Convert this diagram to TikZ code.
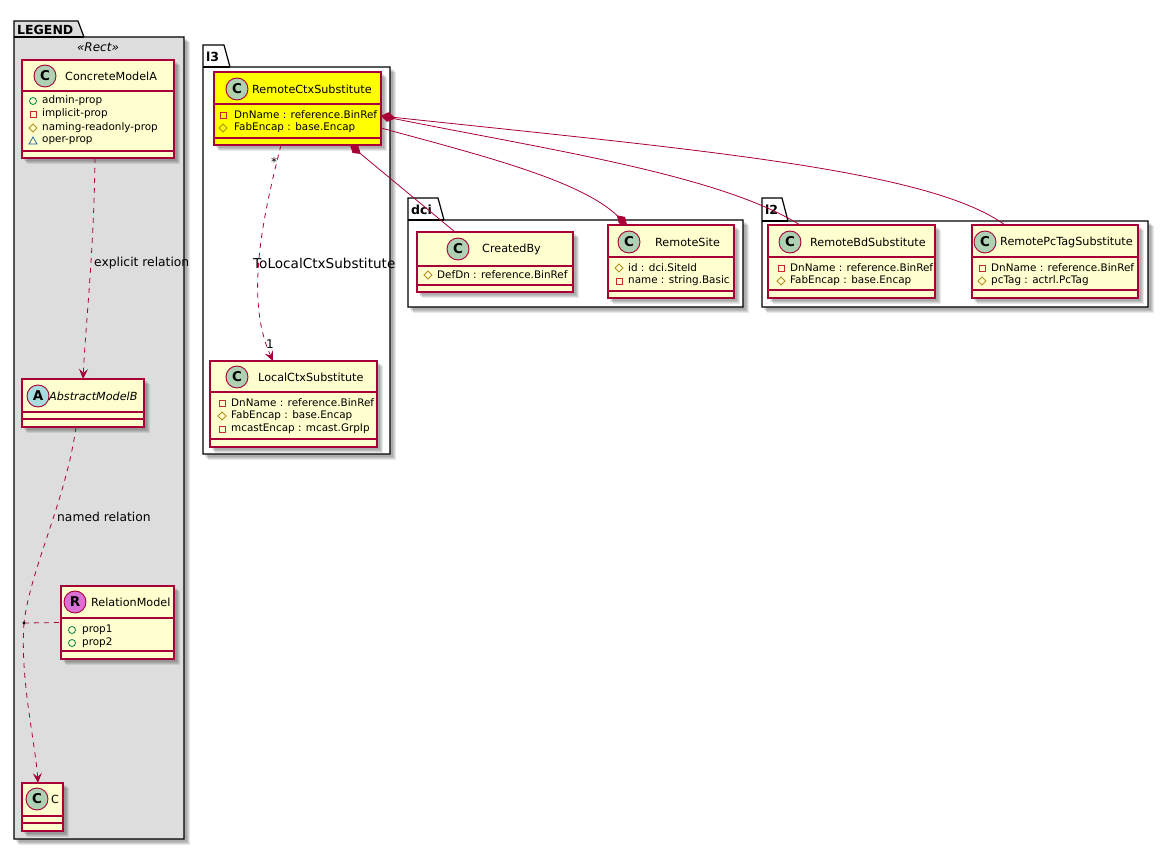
\documentclass[tikz,border=0pt]{standalone}
\usepackage{fontspec}
\setmainfont{DejaVu Sans}
\usetikzlibrary{arrows.meta}
\definecolor{umlc}{HTML}{A80036}
\definecolor{classfill}{HTML}{FEFECE}
\definecolor{legendfill}{HTML}{DDDDDD}
\definecolor{spotC}{HTML}{ADD1B2}
\definecolor{spotA}{HTML}{A9DCDF}
\definecolor{spotR}{HTML}{DA70D6}
\definecolor{privc}{HTML}{C82930}
\definecolor{protc}{HTML}{B38D22}
\definecolor{pubc}{HTML}{038048}
\definecolor{pkgc}{HTML}{1963A0}
\definecolor{hiyellow}{HTML}{FFFF00}
\tikzset{
  shadowc/.style={fill=black, opacity=0.09},
  classbox/.style={draw=umlc, line width=1.1pt, inner sep=0pt, outer sep=0pt},
  classline/.style={draw=umlc, line width=1.1pt},
  pkgline/.style={draw=black, line width=1.2pt, line join=miter},
  spot/.style={circle, draw=umlc, line width=0.9pt, minimum size=22pt, inner sep=0pt, font=\fontsize{13.5}{13.5}\selectfont\bfseries},
  cname/.style={anchor=west, inner sep=0pt, font=\fontsize{11.2}{13}\selectfont},
  attr/.style={anchor=west, inner sep=0pt, font=\fontsize{10.4}{12}\selectfont},
  lbl/.style={anchor=west, inner sep=0pt, font=\fontsize{12.3}{14}\selectfont},
  tabtxt/.style={anchor=west, inner sep=0pt, font=\fontsize{12.5}{14}\selectfont\bfseries},
  rel/.style={draw=umlc, line width=0.8pt},
  dep/.style={rel, dashed, dash pattern=on 5pt off 5pt, -{Stealth[length=10pt,width=9pt,inset=4pt]}},
  compsrc/.style={rel, {Diamond[length=14pt,width=9pt]}-},
  comptgt/.style={rel, -{Diamond[length=14pt,width=9pt]}}
}
\newcommand\softshadow[4]{%
  \fill[shadowc] (#1+2,#2+2) rectangle (#3+3,#4+3);
  \fill[shadowc] (#1+3,#2+3) rectangle (#3+4,#4+4);
  \fill[shadowc] (#1+4,#2+4) rectangle (#3+5,#4+5);
  \fill[shadowc] (#1+5,#2+5) rectangle (#3+6,#4+6);
}
\newcommand\umlclass[8]{%
  \softshadow{#2}{#3}{#2+#4}{#3+#5}
  \node[classbox, fill=#8, minimum width=#4pt, minimum height=#5pt, anchor=north west] (#1) at (#2,#3) {};
  \draw[classline] (#2,#3+#6) -- ++(#4,0);
  \draw[classline] (#2,#3+#7) -- ++(#4,0);
}
\newcommand\privicon[2]{\draw[privc, line width=0.8pt] (#1-3,#2-3) rectangle (#1+3,#2+3);}
\newcommand\protecticon[2]{\draw[protc, line width=0.8pt] (#1,#2-4) -- (#1+4,#2) -- (#1,#2+4) -- (#1-4,#2) -- cycle;}
\newcommand\pubicon[2]{\draw[pubc, line width=0.8pt] (#1,#2) circle (3.5pt);}
\newcommand\pkgicon[2]{\draw[pkgc, line width=0.8pt] (#1,#2-4) -- (#1+4,#2+3) -- (#1-4,#2+3) -- cycle;}
\begin{document}
\begin{tikzpicture}[x=1pt,y=-1pt]
\useasboundingbox (0,0) rectangle (1168,850);
\fill[white] (0,0) rectangle (1168,850);

% ---------- LEGEND package ----------
\softshadow{14}{37}{184}{839}
\path[pkgline, fill=legendfill] (14,21) -- (78,21) -- (84,37) -- (184,37) -- (184,839) -- (14,839) -- cycle;
\draw[pkgline] (14,37) -- (84,37);
\node[tabtxt] (legtab) at (17,29.5) {LEGEND};
\node[inner sep=0pt, font=\fontsize{12}{14}\selectfont\itshape] (stereo) at (98,47) {«Rect»};

% ---------- l3 package ----------
\softshadow{203}{67}{390}{454}
\path[pkgline, fill=white] (203,45) -- (224,45) -- (230,67) -- (390,67) -- (390,454) -- (203,454) -- cycle;
\draw[pkgline] (203,67) -- (230,67);
\node[tabtxt] (l3tab) at (206,56.5) {l3};

% ---------- dci package ----------
\softshadow{408}{220}{743}{307}
\path[pkgline, fill=white] (408,198) -- (438,198) -- (444,220) -- (743,220) -- (743,307) -- (408,307) -- cycle;
\draw[pkgline] (408,220) -- (444,220);
\node[tabtxt] (dcitab) at (411,209.5) {dci};

% ---------- l2 package ----------
\softshadow{762}{221}{1148}{307}
\path[pkgline, fill=white] (762,198) -- (782,198) -- (788,221) -- (1148,221) -- (1148,307) -- (762,307) -- cycle;
\draw[pkgline] (762,221) -- (788,221);
\node[tabtxt] (l2tab) at (765,210) {l2};

% ---------- classes ----------
% ConcreteModelA
\umlclass{CMA}{22}{60}{152}{98}{31}{91}{classfill}
\node[spot, fill=spotC] (CMAs) at (45,76) {C};
\node[cname] (CMAn) at (65,76) {ConcreteModelA};
\pubicon{33}{101}\node[attr] (CMAa1) at (42,101) {admin-prop};
\privicon{33}{114}\node[attr] (CMAa2) at (42,114) {implicit-prop};
\protecticon{33}{128}\node[attr] (CMAa3) at (42,128) {naming-readonly-prop};
\pkgicon{33}{141}\node[attr] (CMAa4) at (42,141) {oper-prop};

% AbstractModelB
\umlclass{AMB}{22}{379}{122}{48}{33}{40}{classfill}
\node[spot, fill=spotA] (AMBs) at (38,396) {A};
\node[cname, font=\fontsize{11.2}{13}\selectfont\itshape] (AMBn) at (49,396) {AbstractModelB};

% RelationModel
\umlclass{RM}{61}{586}{113}{73}{32}{65}{classfill}
\node[spot, fill=spotR] (RMs) at (75,602) {R};
\node[cname] (RMn) at (91,602) {RelationModel};
\pubicon{72}{630}\node[attr] (RMa1) at (82,630) {prop1};
\pubicon{72}{643}\node[attr] (RMa2) at (82,643) {prop2};

% C
\umlclass{Cc}{22}{783}{41}{48}{33}{40}{classfill}
\node[spot, fill=spotC] (Ccs) at (37,799) {C};
\node[cname] (Ccn) at (51,799) {C};

% RemoteCtxSubstitute
\umlclass{RCS}{214}{72}{167}{73}{32}{66}{hiyellow}
\node[spot, fill=spotC] (RCSs) at (237,89) {C};
\node[cname] (RCSn) at (252,89) {RemoteCtxSubstitute};
\privicon{223}{115}\node[attr] (RCSa1) at (234,115) {DnName : reference.BinRef};
\protecticon{223}{128}\node[attr] (RCSa2) at (234,128) {FabEncap : base.Encap};

% LocalCtxSubstitute
\umlclass{LCS}{210}{361}{167}{86}{31}{78}{classfill}
\node[spot, fill=spotC] (LCSs) at (237,377) {C};
\node[cname] (LCSn) at (258,377) {LocalCtxSubstitute};
\privicon{222}{403}\node[attr] (LCSa1) at (231,403) {DnName : reference.BinRef};
\protecticon{222}{416}\node[attr] (LCSa2) at (231,416) {FabEncap : base.Encap};
\privicon{222}{429}\node[attr] (LCSa3) at (231,429) {mcastEncap : mcast.GrpIp};

% CreatedBy
\umlclass{CB}{417}{232}{156}{60}{34}{53}{classfill}
\node[spot, fill=spotC] (CBs) at (458,249) {C};
\node[cname] (CBn) at (482,249) {CreatedBy};
\protecticon{428}{275}\node[attr] (CBa1) at (437,275) {DefDn : reference.BinRef};

% RemoteSite
\umlclass{RS}{608}{225}{126}{73}{32}{66}{classfill}
\node[spot, fill=spotC] (RSs) at (629,242) {C};
\node[cname] (RSn) at (655,242) {RemoteSite};
\protecticon{619}{268}\node[attr] (RSa1) at (628,268) {id : dci.SiteId};
\privicon{619}{281}\node[attr] (RSa2) at (628,281) {name : string.Basic};

% RemoteBdSubstitute
\umlclass{RB}{768}{225}{167}{73}{32}{65}{classfill}
\node[spot, fill=spotC] (RBs) at (790,242) {C};
\node[cname] (RBn) at (810,242) {RemoteBdSubstitute};
\privicon{781}{268}\node[attr] (RBa1) at (790,268) {DnName : reference.BinRef};
\protecticon{781}{281}\node[attr] (RBa2) at (790,281) {FabEncap : base.Encap};

% RemotePcTagSubstitute
\umlclass{RP}{972}{225}{166}{73}{32}{65}{classfill}
\node[spot, fill=spotC] (RPs) at (985,242) {C};
\node[cname] (RPn) at (1000,242) {RemotePcTagSubstitute};
\privicon{982}{268}\node[attr] (RPa1) at (991,268) {DnName : reference.BinRef};
\protecticon{982}{281}\node[attr] (RPa2) at (991,281) {pcTag : actrl.PcTag};

% ---------- connectors ----------
% legend relations
\draw[dep] ([xshift=73pt]CMA.south west) .. controls (94,250) and (86,320) .. ([xshift=61pt]AMB.north west);
\node[lbl] (explbl) at (94,263) {explicit relation};

\coordinate (dot) at (24,623);
\draw[rel, dashed, dash pattern=on 5pt off 5pt] ([xshift=54pt]AMB.south west) .. controls (66,500) and (30,570) .. (dot);
\draw[dep] (dot) .. controls (20,680) and (35,740) .. ([xshift=16pt]Cc.north west);
\draw[rel, dashed, dash pattern=on 5pt off 5pt] (dot) -- (RM.west);
\fill[black] (dot) circle (1.6pt);
\node[lbl] (namedlbl) at (57,517) {named relation};

% RemoteCtx -> LocalCtx
\draw[dep] ([xshift=67pt]RCS.south west) .. controls (262,220) and (245,300) .. ([xshift=63pt]LCS.north west);
\node[lbl, font=\fontsize{13.6}{15}\selectfont] (tolbl) at (253,263) {ToLocalCtxSubstitute};
\node[inner sep=0pt, font=\fontsize{12}{14}\selectfont] (starlbl) at (274,162) {*};
\node[inner sep=0pt, font=\fontsize{12}{14}\selectfont] (onelbl) at (270,344) {1};

% compositions
\draw[compsrc] ([xshift=136pt]RCS.south west) -- ([xshift=38pt]CB.north west);
\draw[comptgt] ([yshift=-56pt]RCS.north east) .. controls (480,155) and (580,180) .. ([xshift=19pt]RS.north west);
\draw[compsrc] ([yshift=-44pt]RCS.north east) .. controls (550,150) and (720,175) .. ([xshift=32pt]RB.north west);
\draw[compsrc] ([yshift=-44pt]RCS.north east) .. controls (700,150) and (930,170) .. ([xshift=33pt]RP.north west);
\end{tikzpicture}
\end{document}
